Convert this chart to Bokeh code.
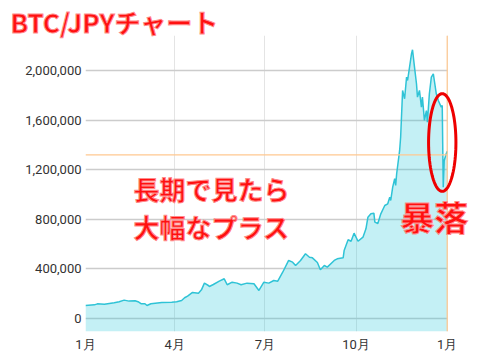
from bokeh.plotting import figure
from bokeh.models import (Range1d, FixedTicker, NumeralTickFormatter, Span, Label,
                          PolyAnnotation, ColumnDataSource)
from bokeh.embed import file_html
from bokeh.resources import INLINE
import numpy as np

# ---- data (day offset from Jan 1, price in thousand JPY) ----
days = [0, 9, 12, 19, 29, 34, 39, 44, 50, 53, 56, 60, 62, 66, 77, 87, 92, 97, 100, 103,
        108, 114, 117, 120, 124, 125, 129, 135, 140, 143, 148, 153, 157, 163, 170, 175,
        180, 185, 190, 194, 199, 205, 209, 212, 217, 222, 226, 229, 234, 237, 241, 244,
        251, 254, 260, 261, 265, 268, 271, 275, 280, 283, 285, 288, 291, 292, 295, 298,
        302, 305, 307, 308, 310, 312, 313, 314, 317, 318, 320, 322, 324, 325, 327, 329,
        330, 332, 334, 335, 337, 339, 340, 342, 344, 345, 347, 349, 351, 352, 354, 356,
        359, 360, 361, 362, 364, 365]
price_k = [105, 110, 118, 115, 127, 135, 148, 140, 143, 135, 119, 119, 105, 119, 129, 131,
           135, 145, 167, 180, 210, 204, 231, 285, 266, 258, 274, 301, 320, 272, 293, 285,
           272, 285, 280, 226, 293, 285, 306, 301, 373, 468, 454, 427, 468, 522, 494, 489,
           452, 393, 427, 414, 468, 481, 489, 548, 635, 623, 688, 623, 656, 723, 817, 844,
           849, 777, 766, 844, 911, 925, 978, 952, 1059, 1127, 1073, 1167, 1355, 1462, 1839,
           1772, 1946, 1919, 2027, 2135, 2167, 2027, 1893, 1785, 1839, 1704, 1785, 1597,
           1677, 1583, 1812, 1946, 1973, 1919, 1812, 1758, 1704, 1718, 1059, 1274, 1328, 1349]
month_ticks = [0, 90, 181, 273, 365]
month_labels = ["1月", "4月", "7月", "10月", "1月"]
y_ticks = [0, 400000, 800000, 1200000, 1600000, 2000000]
current_price = 1320000
title_text = "BTC/JPYチャート"
note_lines = ["長期で見たら", "大幅なプラス"]
crash_text = "暴落"

price = [v * 1000 for v in price_k]
Y0, Y1 = -105000, 2282000
X0, X1 = 0, 398.6
src = ColumnDataSource(dict(x=days, y=price, base=[Y0] * len(days)))

p = figure(width=480, height=358, output_backend="svg", toolbar_location=None,
           x_range=Range1d(X0, X1), y_range=Range1d(Y0, Y1),
           min_border_left=85, min_border_right=0, min_border_top=35, min_border_bottom=27)
p.outline_line_color = None
p.background_fill_color = "white"
p.border_fill_color = "white"

p.varea(x="x", y1="base", y2="y", source=src, fill_color="#26c6da", fill_alpha=0.27)
p.line(x="x", y="y", source=src, line_color="#2fc3d6", line_width=1.5)

p.segment(x0=[month_ticks[0]], x1=[month_ticks[-1]], y0=[current_price], y1=[current_price],
          line_color="#ffc890", line_width=1.2)
p.add_layout(Span(location=month_ticks[-1], dimension="height", line_color="#ffc890", line_width=1.2))

# axes
p.xaxis.ticker = FixedTicker(ticks=month_ticks)
p.xaxis.major_label_overrides = {t: l for t, l in zip(month_ticks, month_labels)}
p.yaxis.ticker = FixedTicker(ticks=y_ticks)
p.yaxis.formatter = NumeralTickFormatter(format="0,0")
for ax in (p.xaxis, p.yaxis):
    ax.axis_line_color = None
    ax.major_tick_line_color = None
    ax.minor_tick_line_color = None
    ax.major_tick_out = 0
    ax.major_tick_in = 0
    ax.major_label_text_font = "Roboto"
    ax.major_label_text_font_size = "13px"
    ax.major_label_text_color = "#333333"
p.xaxis.major_label_standoff = 5
p.yaxis.major_label_standoff = 4

p.xgrid.grid_line_color = "#e4e4e4"
p.xgrid.grid_line_width = 1
p.ygrid.grid_line_color = "#cccccc"
p.ygrid.grid_line_width = 1.5
p.ygrid.cross_bounds = (month_ticks[0], month_ticks[-1])

# title
font = "Noto Sans CJK JP"
p.title.text = title_text
p.title.align = "left"
p.title.offset = -75
p.title.standoff = -8
p.title.text_font = font
p.title.text_font_style = "bold"
p.title.text_font_size = "26px"
p.title.text_color = "#ff1010"
p.title.text_outline_color = "#ff8a8a"

# annotations
for txt, yv in zip(note_lines, [1048000, 742000]):
    p.add_layout(Label(x=48.5, y=yv, text=txt, text_font=font, text_font_style="bold",
                       text_font_size="26px", text_color="#ff1010", text_baseline="middle",
                       text_align="left", text_outline_color="#ff8a8a"))
p.add_layout(Label(x=317.5, y=820000, text=crash_text, text_font=font, text_font_style="bold",
                   text_font_size="34px", text_color="#ff1010", text_baseline="middle",
                   text_align="left", text_outline_color="#ff8a8a"))

t = np.linspace(0, 2 * np.pi, 90)
cx, cy, rx, ry = 360, 1419000, 13.8, 394000
p.add_layout(PolyAnnotation(xs=list(cx + rx * np.cos(t)), ys=list(cy + ry * np.sin(t)),
                            fill_color=None, fill_alpha=0, line_color="#ee0000",
                            line_alpha=1, line_width=3))

open("out.html", "w").write(file_html(p, INLINE))
